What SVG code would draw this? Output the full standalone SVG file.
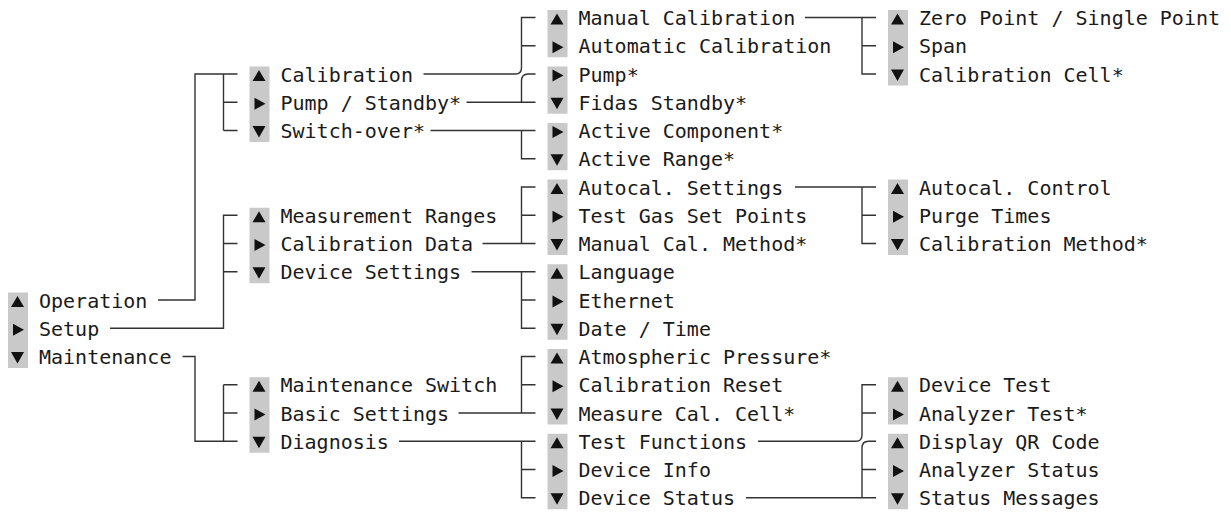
<svg xmlns="http://www.w3.org/2000/svg" xmlns:xlink="http://www.w3.org/1999/xlink" width="1231" height="515" viewBox="0 0 1231 515">
<style>
.t{font-family:"DejaVu Sans Mono","Liberation Mono",monospace;font-size:20px;fill:#1a1a1a}
.bar{fill:#c9c9c9}
.tri{fill:#111}
.ln{fill:none;stroke:#333;stroke-width:1.4}
</style>
<defs>
<path id="up" class="tri" d="M3,-0.5 H16 L9.5,-11.5 Z"/>
<path id="rt" class="tri" d="M5,-12 V0 L16,-6 Z"/>
<path id="dn" class="tri" d="M3,-12 H16 L9.5,-0.5 Z"/>
</defs>
<rect width="1231" height="515" fill="#fff"/>

<g id="connectors" class="ln">
<!-- level 0 to level 1 -->
<path d="M158 300 H195 V74 H237.5"/>
<path d="M223.5 74 V130.5 M223.5 102.25 H237.5 M223.5 130.5 H237.5"/>
<path d="M110 328.25 H223.5 V215.25 H237.5 M223.5 243.5 H237.5 M223.5 271.75 H237.5"/>
<path d="M182.5 356.5 H195 V441.25 H237.5"/>
<path d="M223.5 384.75 V441.25 M223.5 384.75 H237.5 M223.5 413 H237.5"/>
<!-- level 1 to level 2 -->
<path d="M423.5 74 H515.5 Q521.5 74 521.5 67.5 V17.5 H535.5 M521.5 45.75 H535.5"/>
<path d="M466.5 102.25 H535.5 M521.5 102.25 V81 Q521.5 74 528 74 H535.5"/>
<path d="M430.5 130.5 H535.5 M521.5 130.5 V158.75 H535.5"/>
<path d="M482.5 243.5 H535.5 M521.5 243.5 V187 H535.5 M521.5 215.25 H535.5"/>
<path d="M471.5 271.75 H535.5 M521.5 271.75 V328.25 H535.5 M521.5 300 H535.5"/>
<path d="M458.5 413 H535.5 M521.5 413 V356.5 H535.5 M521.5 384.75 H535.5"/>
<path d="M399 441.25 H535.5 M521.5 441.25 V497.75 H535.5 M521.5 469.5 H535.5"/>
<!-- level 2 to level 3 -->
<path d="M805 17.5 H876 M862 17.5 V74 H876 M862 45.75 H876"/>
<path d="M795 187 H876 M862 187 V243.5 H876 M862 215.25 H876"/>
<path d="M758 441.25 H856 Q862 441.25 862 435 V384.75 H876 M862 413 H876"/>
<path d="M746 497.75 H876 M862 497.75 V448 Q862 441.25 868.5 441.25 H876 M862 469.5 H876"/>
</g>

<g id="menu-main">
<rect class="bar" x="8" y="292.5" width="20" height="75.5"/>
<g id="n-operation"><use href="#up" xlink:href="#up" x="8" y="307.5"/><text class="t" x="39" y="307.5">Operation</text></g>
<g id="n-setup"><use href="#rt" xlink:href="#rt" x="8" y="335.75"/><text class="t" x="39" y="335.75">Setup</text></g>
<g id="n-maintenance"><use href="#dn" xlink:href="#dn" x="8" y="364"/><text class="t" x="39" y="364">Maintenance</text></g>
</g>

<g id="menu-operation">
<rect class="bar" x="249.5" y="66.5" width="20" height="75.5"/>
<g id="n-calibration"><use href="#up" xlink:href="#up" x="249.5" y="81.5"/><text class="t" x="280.5" y="81.5">Calibration</text></g>
<g id="n-pump-standby"><use href="#rt" xlink:href="#rt" x="249.5" y="109.75"/><text class="t" x="280.5" y="109.75">Pump / Standby*</text></g>
<g id="n-switch-over"><use href="#dn" xlink:href="#dn" x="249.5" y="138"/><text class="t" x="280.5" y="138">Switch-over*</text></g>
</g>

<g id="menu-setup">
<rect class="bar" x="249.5" y="207.75" width="20" height="75.5"/>
<g id="n-measurement-ranges"><use href="#up" xlink:href="#up" x="249.5" y="222.75"/><text class="t" x="280.5" y="222.75">Measurement Ranges</text></g>
<g id="n-calibration-data"><use href="#rt" xlink:href="#rt" x="249.5" y="251"/><text class="t" x="280.5" y="251">Calibration Data</text></g>
<g id="n-device-settings"><use href="#dn" xlink:href="#dn" x="249.5" y="279.25"/><text class="t" x="280.5" y="279.25">Device Settings</text></g>
</g>

<g id="menu-maintenance">
<rect class="bar" x="249.5" y="377.25" width="20" height="75.5"/>
<g id="n-maintenance-switch"><use href="#up" xlink:href="#up" x="249.5" y="392.25"/><text class="t" x="280.5" y="392.25">Maintenance Switch</text></g>
<g id="n-basic-settings"><use href="#rt" xlink:href="#rt" x="249.5" y="420.5"/><text class="t" x="280.5" y="420.5">Basic Settings</text></g>
<g id="n-diagnosis"><use href="#dn" xlink:href="#dn" x="249.5" y="448.75"/><text class="t" x="280.5" y="448.75">Diagnosis</text></g>
</g>

<g id="menu-calibration">
<rect class="bar" x="547.5" y="10" width="20" height="47.25"/>
<g id="n-manual-calibration"><use href="#up" xlink:href="#up" x="547.5" y="25"/><text class="t" x="578.5" y="25">Manual Calibration</text></g>
<g id="n-automatic-calibration"><use href="#rt" xlink:href="#rt" x="547.5" y="53.25"/><text class="t" x="578.5" y="53.25">Automatic Calibration</text></g>
</g>

<g id="menu-pump-standby">
<rect class="bar" x="547.5" y="66.5" width="20" height="47.25"/>
<g id="n-pump"><use href="#rt" xlink:href="#rt" x="547.5" y="81.5"/><text class="t" x="578.5" y="81.5">Pump*</text></g>
<g id="n-fidas-standby"><use href="#dn" xlink:href="#dn" x="547.5" y="109.75"/><text class="t" x="578.5" y="109.75">Fidas Standby*</text></g>
</g>

<g id="menu-switch-over">
<rect class="bar" x="547.5" y="123" width="20" height="47.25"/>
<g id="n-active-component"><use href="#rt" xlink:href="#rt" x="547.5" y="138"/><text class="t" x="578.5" y="138">Active Component*</text></g>
<g id="n-active-range"><use href="#dn" xlink:href="#dn" x="547.5" y="166.25"/><text class="t" x="578.5" y="166.25">Active Range*</text></g>
</g>

<g id="menu-calibration-data">
<rect class="bar" x="547.5" y="179.5" width="20" height="75.5"/>
<g id="n-autocal-settings"><use href="#up" xlink:href="#up" x="547.5" y="194.5"/><text class="t" x="578.5" y="194.5">Autocal. Settings</text></g>
<g id="n-test-gas"><use href="#rt" xlink:href="#rt" x="547.5" y="222.75"/><text class="t" x="578.5" y="222.75">Test Gas Set Points</text></g>
<g id="n-manual-cal-method"><use href="#dn" xlink:href="#dn" x="547.5" y="251"/><text class="t" x="578.5" y="251">Manual Cal. Method*</text></g>
</g>

<g id="menu-device-settings">
<rect class="bar" x="547.5" y="264.25" width="20" height="75.5"/>
<g id="n-language"><use href="#up" xlink:href="#up" x="547.5" y="279.25"/><text class="t" x="578.5" y="279.25">Language</text></g>
<g id="n-ethernet"><use href="#rt" xlink:href="#rt" x="547.5" y="307.5"/><text class="t" x="578.5" y="307.5">Ethernet</text></g>
<g id="n-date-time"><use href="#dn" xlink:href="#dn" x="547.5" y="335.75"/><text class="t" x="578.5" y="335.75">Date / Time</text></g>
</g>

<g id="menu-basic-settings">
<rect class="bar" x="547.5" y="349" width="20" height="75.5"/>
<g id="n-atmospheric-pressure"><use href="#up" xlink:href="#up" x="547.5" y="364"/><text class="t" x="578.5" y="364">Atmospheric Pressure*</text></g>
<g id="n-calibration-reset"><use href="#rt" xlink:href="#rt" x="547.5" y="392.25"/><text class="t" x="578.5" y="392.25">Calibration Reset</text></g>
<g id="n-measure-cal-cell"><use href="#dn" xlink:href="#dn" x="547.5" y="420.5"/><text class="t" x="578.5" y="420.5">Measure Cal. Cell*</text></g>
</g>

<g id="menu-diagnosis">
<rect class="bar" x="547.5" y="433.75" width="20" height="75.5"/>
<g id="n-test-functions"><use href="#up" xlink:href="#up" x="547.5" y="448.75"/><text class="t" x="578.5" y="448.75">Test Functions</text></g>
<g id="n-device-info"><use href="#rt" xlink:href="#rt" x="547.5" y="477"/><text class="t" x="578.5" y="477">Device Info</text></g>
<g id="n-device-status"><use href="#dn" xlink:href="#dn" x="547.5" y="505.25"/><text class="t" x="578.5" y="505.25">Device Status</text></g>
</g>

<g id="menu-manual-calibration">
<rect class="bar" x="888" y="10" width="20" height="75.5"/>
<g id="n-zero-point"><use href="#up" xlink:href="#up" x="888" y="25"/><text class="t" x="919" y="25">Zero Point / Single Point</text></g>
<g id="n-span"><use href="#rt" xlink:href="#rt" x="888" y="53.25"/><text class="t" x="919" y="53.25">Span</text></g>
<g id="n-calibration-cell"><use href="#dn" xlink:href="#dn" x="888" y="81.5"/><text class="t" x="919" y="81.5">Calibration Cell*</text></g>
</g>

<g id="menu-autocal-settings">
<rect class="bar" x="888" y="179.5" width="20" height="75.5"/>
<g id="n-autocal-control"><use href="#up" xlink:href="#up" x="888" y="194.5"/><text class="t" x="919" y="194.5">Autocal. Control</text></g>
<g id="n-purge-times"><use href="#rt" xlink:href="#rt" x="888" y="222.75"/><text class="t" x="919" y="222.75">Purge Times</text></g>
<g id="n-calibration-method"><use href="#dn" xlink:href="#dn" x="888" y="251"/><text class="t" x="919" y="251">Calibration Method*</text></g>
</g>

<g id="menu-test-functions">
<rect class="bar" x="888" y="377.25" width="20" height="47.25"/>
<g id="n-device-test"><use href="#up" xlink:href="#up" x="888" y="392.25"/><text class="t" x="919" y="392.25">Device Test</text></g>
<g id="n-analyzer-test"><use href="#rt" xlink:href="#rt" x="888" y="420.5"/><text class="t" x="919" y="420.5">Analyzer Test*</text></g>
</g>

<g id="menu-device-status">
<rect class="bar" x="888" y="433.75" width="20" height="75.5"/>
<g id="n-display-qr"><use href="#up" xlink:href="#up" x="888" y="448.75"/><text class="t" x="919" y="448.75">Display QR Code</text></g>
<g id="n-analyzer-status"><use href="#rt" xlink:href="#rt" x="888" y="477"/><text class="t" x="919" y="477">Analyzer Status</text></g>
<g id="n-status-messages"><use href="#dn" xlink:href="#dn" x="888" y="505.25"/><text class="t" x="919" y="505.25">Status Messages</text></g>
</g>
</svg>
